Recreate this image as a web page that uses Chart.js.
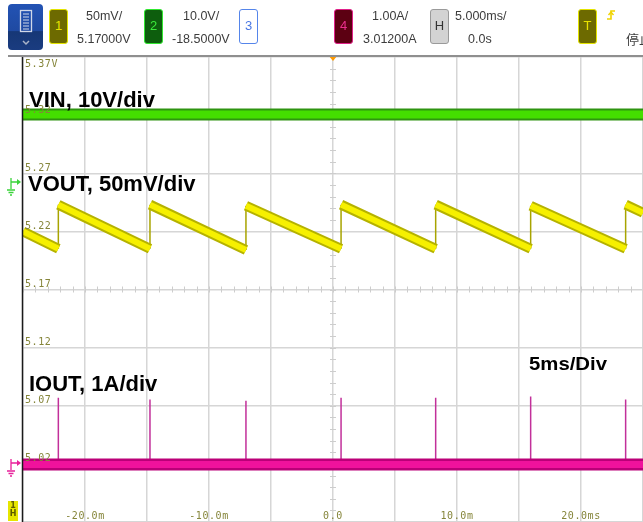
<!DOCTYPE html>
<html>
<head>
<meta charset="utf-8">
<script src="https://cdn.jsdelivr.net/npm/chart.js@4.4.1/dist/chart.umd.min.js"></script>
<style>
  body { margin: 0; background: #fff; }
  #wrap { position: relative; width: 643px; height: 522px; overflow: hidden; font-family: "Liberation Sans", Arial, sans-serif; }
  #scope { position: absolute; left: 0; top: 0; }
  .txt { position: absolute; font-size: 12.5px; color: #3c3c3c; white-space: nowrap; line-height: 14px; z-index: 2; }
  .box { position: absolute; top: 9px; width: 19px; height: 35px; box-sizing: border-box; border: 1.5px solid; border-radius: 3px;
         font-size: 13px; text-align: center; line-height: 32px; z-index: 2; }
  #menu { position: absolute; left: 8px; top: 4px; width: 35px; height: 46px; border-radius: 4px; z-index: 2;
          background: linear-gradient(#2353b4 0%, #1f4aa2 58%, #163776 60%, #1a3c80 100%); }
  #bar { position: absolute; left: 8px; top: 55px; width: 635px; height: 2px; background: #8f8f8f; z-index: 2; }
</style>
</head>
<body>
<div id="wrap">
  <canvas id="scope" width="643" height="522"></canvas>

  <!-- barre du haut -->
  <div id="menu">
    <svg width="35" height="46">
      <rect x="12.5" y="6.5" width="11" height="21" fill="none" stroke="#d0d8e8" stroke-width="1.3"/>
      <line x1="15" y1="10" x2="21" y2="10" stroke="#d0d8e8"/>
      <line x1="15" y1="13" x2="21" y2="13" stroke="#d0d8e8"/>
      <line x1="15" y1="16" x2="21" y2="16" stroke="#d0d8e8"/>
      <line x1="15" y1="19" x2="21" y2="19" stroke="#d0d8e8"/>
      <line x1="15" y1="22" x2="21" y2="22" stroke="#d0d8e8"/>
      <line x1="15" y1="25" x2="21" y2="25" stroke="#d0d8e8"/>
      <polyline points="15,37 18,40 21,37" fill="none" stroke="#aab4c8" stroke-width="1.5"/>
    </svg>
  </div>
  <div class="box" style="left:49px;background:#6d6a00;border-color:#e4e400;color:#e8e200;">1</div>
  <div class="txt" style="left:86px;top:9px;">50mV/</div>
  <div class="txt" style="left:77px;top:32px;">5.17000V</div>

  <div class="box" style="left:144px;background:#0d5e0d;border-color:#30e830;color:#3be83b;">2</div>
  <div class="txt" style="left:183px;top:9px;">10.0V/</div>
  <div class="txt" style="left:172px;top:32px;">-18.5000V</div>

  <div class="box" style="left:239px;background:#fff;border-color:#5585ea;color:#4a78e4;">3</div>

  <div class="box" style="left:334px;background:#5c0012;border-color:#e0208a;color:#ec2e8e;">4</div>
  <div class="txt" style="left:372px;top:9px;">1.00A/</div>
  <div class="txt" style="left:363px;top:32px;">3.01200A</div>

  <div class="box" style="left:430px;background:#d3d3d3;border-color:#9a9a9a;color:#333;">H</div>
  <div class="txt" style="left:455px;top:9px;">5.000ms/</div>
  <div class="txt" style="left:468px;top:32px;">0.0s</div>

  <div class="box" style="left:578px;background:#6d6a00;border-color:#e4e400;color:#e8e200;">T</div>
  <svg style="position:absolute;left:605px;top:8px;z-index:2" width="12" height="14">
    <polyline points="2,11 6,11 6,3 10,3" fill="none" stroke="#f0d400" stroke-width="1.6"/>
    <polyline points="3.5,7 6,4 8.5,7" fill="none" stroke="#f0d400" stroke-width="1.4"/>
  </svg>
  <div class="txt" style="left:626px;top:32px;font-family:'Noto Sans CJK SC';font-size:13px;">停止</div>
  <div id="bar"></div>
</div>

<script>
const gridTimes = [-25, -20, -15, -10, -5, 0, 5, 10, 15, 20, 25];
const xTickValues = [-20, -10, 0, 10, 20];
const xTickLabels = ['-20.0m', '-10.0m', '0.0', '10.0m', '20.0ms'];
const yTickValues = [5.37, 5.32, 5.27, 5.22, 5.17, 5.12, 5.07, 5.02];
const yTickLabels = ['5.37V', '5.32', '5.27', '5.22', '5.17', '5.12', '5.07', '5.02'];
const gridLevels = [4.97, 5.02, 5.07, 5.12, 5.17, 5.22, 5.27, 5.32, 5.37];

// VOUT : dent de scie (V)
const jumpTimes = [-22.15, -14.76, -7.02, 0.65, 8.28, 15.94, 23.6];
const voutBefore = [5.205, 5.205, 5.204, 5.205, 5.205, 5.205, 5.205];
const voutAfter = [5.243, 5.243, 5.242, 5.243, 5.243, 5.242, 5.243];
const voutAtStart = 5.220;
const voutAtEnd = 5.236;

// VIN (V) et IOUT (A)
const vinLevel = 11.62;
const ioutBaseline = 0.0;
const ioutSpikes = [1.15, 1.12, 1.10, 1.15, 1.15, 1.17, 1.12];

// Construire les tracés
const rampPoints = [{ x: -25, y: voutAtStart }];
const jumpPoints = [];
const spikePoints = [];
jumpTimes.forEach((t, i) => {
    rampPoints.push({ x: t, y: voutBefore[i] });
    rampPoints.push({ x: t, y: null });
    rampPoints.push({ x: t, y: voutAfter[i] });
    jumpPoints.push({ x: t, y: voutBefore[i] }, { x: t, y: voutAfter[i] }, { x: t, y: null });
    spikePoints.push({ x: t, y: ioutBaseline }, { x: t, y: ioutSpikes[i] }, { x: t, y: null });
});
rampPoints.push({ x: 25, y: voutAtEnd });

const vinPoints = [{ x: -25, y: vinLevel }, { x: 25, y: vinLevel }];
const ioutPoints = [{ x: -25, y: ioutBaseline }, { x: 25, y: ioutBaseline }];

function trace(data, axis, color, width, order) {
    return { data: data, yAxisID: axis, borderColor: color, borderWidth: width, order: order,
             pointRadius: 0, tension: 0, spanGaps: false, borderCapStyle: 'butt', fill: false };
}

// petit marqueur de masse à gauche
function groundMarker(ctx, y, color) {
    ctx.strokeStyle = color; ctx.fillStyle = color; ctx.lineWidth = 1.3;
    ctx.beginPath();
    ctx.moveTo(11, y - 4); ctx.lineTo(11, y + 7);
    ctx.moveTo(11, y); ctx.lineTo(18, y);
    ctx.moveTo(7, y + 8); ctx.lineTo(15, y + 8);
    ctx.moveTo(8.5, y + 10.5); ctx.lineTo(13.5, y + 10.5);
    ctx.moveTo(10, y + 13); ctx.lineTo(12, y + 13);
    ctx.stroke();
    ctx.beginPath();
    ctx.moveTo(21, y); ctx.lineTo(17, y - 3); ctx.lineTo(17, y + 3); ctx.closePath();
    ctx.fill();
}

const scopeDecor = {
    id: 'scopeDecor',
    beforeDatasetsDraw(chart) {
        const { ctx, chartArea: a, scales: { x, yV } } = chart;
        const cx = x.getPixelForValue(0);
        const cy = yV.getPixelForValue(5.17);
        ctx.save();
        ctx.strokeStyle = '#cdcdcd';
        ctx.lineWidth = 1;
        ctx.beginPath();
        for (let t = -25; t <= 25; t += 1) {
            const px = Math.round(x.getPixelForValue(t)) + 0.5;
            ctx.moveTo(px, cy - 3); ctx.lineTo(px, cy + 3);
        }
        for (let k = 0; k <= 40; k++) {
            const py = Math.round(yV.getPixelForValue(4.97 + k * 0.01)) + 0.5;
            ctx.moveTo(cx - 3, py); ctx.lineTo(cx + 3, py);
        }
        ctx.stroke();
        ctx.restore();
    },
    afterDatasetsDraw(chart) {
        const { ctx, chartArea: a, scales: { x, yV } } = chart;
        ctx.save();

        // bord gauche
        ctx.strokeStyle = '#1a1a1a';
        ctx.lineWidth = 1.5;
        ctx.beginPath();
        ctx.moveTo(a.left - 0.5, a.top - 2); ctx.lineTo(a.left - 0.5, a.bottom);
        ctx.stroke();

        // graduations verticales (échelle VOUT)
        ctx.fillStyle = '#85853a';
        ctx.font = '10px "DejaVu Sans Mono"';
        ctx.letterSpacing = '0.6px';
        ctx.textAlign = 'left';
        yTickValues.forEach((v, i) => {
            const py = yV.getPixelForValue(v);
            if (i === 0) { ctx.textBaseline = 'top'; ctx.fillText(yTickLabels[i], a.left + 2, py + 2); }
            else { ctx.textBaseline = 'bottom'; ctx.fillText(yTickLabels[i], a.left + 2, py); }
        });

        // graduations horizontales
        ctx.textAlign = 'center';
        ctx.textBaseline = 'bottom';
        xTickValues.forEach((v, i) => {
            ctx.fillText(xTickLabels[i], x.getPixelForValue(v), a.bottom - 1);
        });
        ctx.letterSpacing = '0px';

        // repère du déclenchement
        const tx = x.getPixelForValue(0);
        ctx.fillStyle = '#ff9a00';
        ctx.beginPath();
        ctx.moveTo(tx - 4, a.top - 1); ctx.lineTo(tx + 4, a.top - 1); ctx.lineTo(tx, a.top + 4); ctx.closePath();
        ctx.fill();

        // marqueurs de voies
        groundMarker(ctx, 182, '#3ad33a');
        groundMarker(ctx, 463, '#e8209a');
        ctx.fillStyle = '#e6e600';
        ctx.fillRect(8, 501, 10, 20);
        ctx.fillStyle = '#5c5a00';
        ctx.font = 'bold 8px "DejaVu Sans"';
        ctx.textAlign = 'center';
        ctx.textBaseline = 'middle';
        ctx.fillText('1', 13, 506);
        ctx.fillText('H', 13, 514);

        // annotations
        ctx.fillStyle = '#000';
        ctx.textAlign = 'left';
        ctx.textBaseline = 'alphabetic';
        ctx.font = 'bold 22px "Liberation Sans"';
        ctx.fillText('VIN, 10V/div', 29, 107);
        ctx.fillText('VOUT, 50mV/div', 28, 191);
        ctx.fillText('IOUT, 1A/div', 29, 391);
        ctx.save();
        ctx.translate(529, 370);
        ctx.scale(1.07, 1);
        ctx.font = 'bold 19px "Liberation Sans"';
        ctx.fillText('5ms/Div', 0, 0);
        ctx.restore();

        ctx.restore();
    }
};

const gridStyle = { color: '#d6d6d6', lineWidth: 1.5, drawTicks: false };

new Chart(document.getElementById('scope'), {
    type: 'line',
    data: {
        datasets: [
            trace(ioutPoints, 'yI', '#f0129c', 7, 0),
            trace(ioutPoints, 'yI', '#bb0078', 12, 1),
            trace(spikePoints, 'yI', '#c2309a', 1.5, 2),
            trace(rampPoints, 'yV', '#f6f000', 6, 3),
            trace(rampPoints, 'yV', '#b5b200', 10, 4),
            trace(jumpPoints, 'yV', '#a8a400', 1.5, 5),
            trace(vinPoints, 'yIn', '#44de00', 8, 6),
            trace(vinPoints, 'yIn', '#2e9410', 12, 7)
        ]
    },
    options: {
        responsive: false,
        animation: false,
        events: [],
        layout: { padding: { left: 23, top: 57, right: 0, bottom: 0 } },
        plugins: { legend: { display: false }, tooltip: { enabled: false } },
        scales: {
            x: {
                type: 'linear', min: -25, max: 25,
                afterBuildTicks: s => { s.ticks = gridTimes.map(v => ({ value: v })); },
                ticks: { display: false },
                grid: gridStyle,
                border: { display: false }
            },
            yV: {
                type: 'linear', position: 'left', min: 4.97, max: 5.37,
                afterBuildTicks: s => { s.ticks = gridLevels.map(v => ({ value: v })); },
                ticks: { display: false },
                grid: gridStyle,
                border: { display: false }
            },
            yIn: { type: 'linear', display: false, min: -58.5, max: 21.5 },
            yI: { type: 'linear', display: false, min: -0.988, max: 7.012 }
        }
    },
    plugins: [scopeDecor]
});
</script>
</body>
</html>
